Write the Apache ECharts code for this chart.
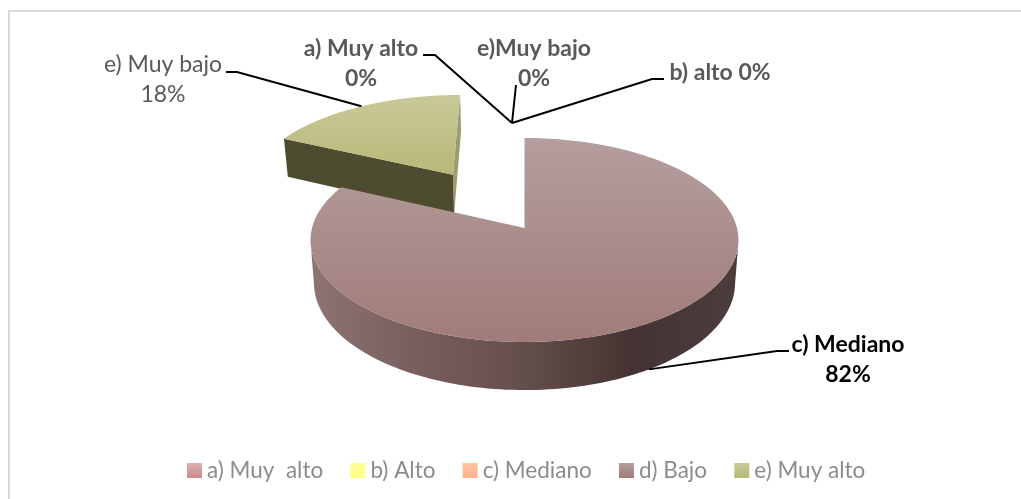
<!DOCTYPE html>
<html><head><meta charset="utf-8">
<style>html,body{margin:0;padding:0;background:#fff}#c{width:1021px;height:499px}</style>
<script src="https://cdn.jsdelivr.net/npm/echarts@6/dist/echarts.min.js"></script>
</head><body><div id="c"></div>
<script>
// ---- data ----
const categories = ['a) Muy  alto', 'b) Alto', 'c) Mediano', 'd) Bajo', 'e) Muy alto'];
const values = [0, 0, 0, 82, 18];
const labelLines = [
  ['a) Muy alto', '0%'],
  ['b) alto 0%'],
  ['e)Muy bajo', '0%'],
  ['c) Mediano', '82%'],
  ['e) Muy bajo', '18%']
];
const explodedShare = [0, 0, 0, 0, 0.67];

// ---- style and layout ----
const FONT = 'Lato, "Open Sans", sans-serif';
const vGrad = (a, b) => ({type:'linear', x:0, y:0, x2:0, y2:1, colorStops:[{offset:0,color:a},{offset:1,color:b}]});
const topColors = [
  vGrad('#dcb0b0','#cd8a8a'), vGrad('#ffff99','#ffff88'), vGrad('#ffc6a2','#fdb48c'),
  vGrad('#b59e9f','#a07b79'), vGrad('#c8c998','#b8b879')
];
const wallColor = {type:'linear', x:0, y:0, x2:1, y2:0, colorStops:[
  {offset:0,color:'#8d7373'},{offset:0.2,color:'#7c6261'},{offset:0.5,color:'#644e4c'},
  {offset:0.75,color:'#443332'},{offset:1,color:'#4c3d3c'}]};
const CUT_FRONT = '#4e4c30', CUT_SIDE = '#9d9d6c';
const labelStyle = [
  {color:'#595959', weight:'bold', x:361, y:[49,79]},
  {color:'#595959', weight:'bold', x:720, y:[73]},
  {color:'#595959', weight:'bold', x:534, y:[49,79]},
  {color:'#000000', weight:'bold', x:848, y:[345,375]},
  {color:'#595959', weight:'normal', x:163, y:[65,95]}
];
// leader path ends, nearest to the label first (pie end is added for non-zero slices)
const JUNCTION = [512,123];
const leaderEnds = [
  [[423,55],[435,55],JUNCTION],
  [[664,79],[652,79],JUNCTION],
  [[516,85],JUNCTION],
  [[789,351],[777,351]],
  [[226,72],[237,72]]
];
// perspective model of the pie plane
const VIEW = {cx:524.5, cy:228, b:212.5, a:100.6, p:0.1176, h:42.4, shrink:0.016};
function project(u, v) {
  const d = 1 - VIEW.p * v;
  return [VIEW.cx + VIEW.b * u / d, VIEW.cy + VIEW.a * v / d];
}
function projectBottom(u, v) {
  const t = project(u, v), d = 1 - VIEW.p * v;
  return [VIEW.cx + (t[0] - VIEW.cx) * (1 - VIEW.shrink), t[1] + VIEW.h / d];
}
const total = values.reduce((s, x) => s + x, 0);
function sliceAngles(i) {
  let start = 0;
  const order = [3, 4, 0, 1, 2];
  for (const k of order) {
    const sweep = values[k] / total * Math.PI * 2;
    if (k === i) return [start, start + sweep];
    start += sweep;
  }
}
function rim(t, off) { return [off[0] + Math.sin(t), off[1] - Math.cos(t)]; }

function renderSlice(params, api) {
  const i = params.seriesIndex;
  const children = [];
  if (values[i] > 0) {
    const [t0, t1] = sliceAngles(i);
    const mid = (t0 + t1) / 2;
    const k = explodedShare[i];
    const off = [Math.sin(mid) * k, -Math.cos(mid) * k];
    const N = 200;
    const arc = [];
    for (let n = 0; n <= N; n++) arc.push(rim(t0 + (t1 - t0) * n / N, off));
    const topPts = [off].concat(arc).map(q => project(q[0], q[1]));
    const first = arc[0], last = arc[N];
    if (k > 0) {
      // visible cut faces of the exploded slice
      children.push({type:'polygon', shape:{points:[project(off[0],off[1]), project(last[0],last[1]), projectBottom(last[0],last[1]), projectBottom(off[0],off[1])]}, style:{fill:CUT_SIDE}});
      children.push({type:'polygon', shape:{points:[project(first[0],first[1]), project(off[0],off[1]), projectBottom(off[0],off[1]), projectBottom(first[0],first[1])]}, style:{fill:CUT_FRONT}});
    } else {
      // outer wall, limited to the part in front of the silhouette of the perspective ellipse
      const wall = arc.filter(q => q[1] >= VIEW.p);
      const pts = wall.map(q => project(q[0], q[1])).concat(wall.slice().reverse().map(q => projectBottom(q[0], q[1])));
      children.push({type:'polygon', shape:{points:pts}, style:{fill:wallColor}});
    }
    children.push({type:'polygon', shape:{points:topPts}, style:{fill:topColors[i]}});
  }
  return {type:'group', children};
}

function renderLabel(params, api) {
  const i = params.dataIndex;
  const children = [];
  let path = leaderEnds[i].slice();
  if (values[i] > 0) {
    const [t0, t1] = sliceAngles(i);
    const mid = (t0 + t1) / 2;
    const k = explodedShare[i];
    const q = rim(mid, [Math.sin(mid) * k, -Math.cos(mid) * k]);
    path.push(k > 0 ? project(q[0], q[1]) : projectBottom(q[0], q[1]));
  }
  children.push({type:'polyline', shape:{points:path}, style:{stroke:'#000', lineWidth:2, fill:null}});
  const s = labelStyle[i];
  labelLines[i].forEach((line, n) => children.push({
    type:'text', x:s.x, y:s.y[n],
    style:{text:line, fill:s.color, font:s.weight + ' 23px ' + FONT, textAlign:'center', textVerticalAlign:'middle'}
  }));
  return {type:'group', children};
}

const chart = echarts.init(document.getElementById('c'), null, {renderer:'canvas'});
const series = categories.map((name, i) => ({
  name, type:'custom', coordinateSystem:'none', z: i === 3 ? 3 : 2,
  renderItem: renderSlice, data:[[values[i]]], itemStyle:{color:topColors[i]}, silent:true
}));
series.push({
  name:'labels', type:'custom', coordinateSystem:'none', z:5,
  renderItem: renderLabel, data: values.map(v => [v]), silent:true
});
chart.setOption({
  animation:false,
  backgroundColor:'#ffffff',
  legend:{
    data:categories, left:182, top:454, icon:'rect', itemWidth:15, itemHeight:15, itemGap:27.25,
    textStyle:{color:'#8c8c8c', fontFamily:FONT, fontSize:22.5}, selectedMode:false
  },
  graphic:[
    {type:'polyline', silent:true, shape:{points:[[9,499],[9,11],[1021,11]]}, style:{stroke:'#d9d9d9', lineWidth:2, fill:null}}
  ],
  series
});
</script></body></html>
